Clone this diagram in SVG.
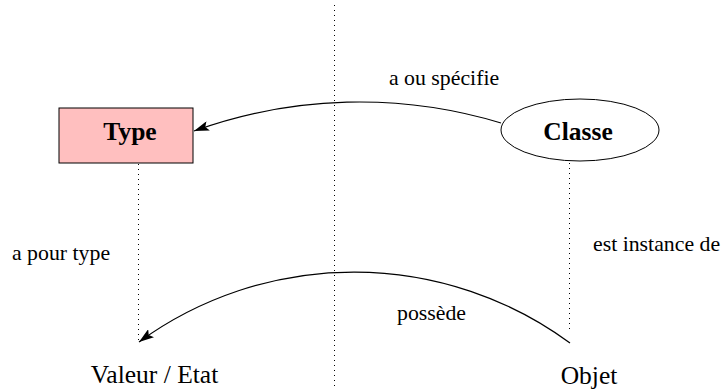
<svg xmlns="http://www.w3.org/2000/svg" width="724" height="389" viewBox="0 0 724 389">
<style>
text{font-family:"Liberation Serif","Times New Roman",serif;fill:#000}
.lbl{font-size:21.8px}
.big{font-size:25.5px}
.bold{font-size:25.5px;font-weight:bold}
.dot{stroke:#000;stroke-width:1;stroke-dasharray:1 4;fill:none}
.arc{stroke:#000;stroke-width:1.2;fill:none;marker-end:url(#ah)}
</style>
<defs>
<marker id="ah" markerUnits="userSpaceOnUse" markerWidth="16" markerHeight="10" refX="15" refY="5" orient="auto">
<path d="M0,0 L15,5 L0,10 L3,5 Z" fill="#000"/>
</marker>
</defs>
<g id="guides">
<line class="dot" x1="334.5" y1="5" x2="334.5" y2="387"/>
<line class="dot" x1="138.5" y1="164" x2="138.5" y2="340"/>
<line class="dot" x1="569.5" y1="163" x2="569.5" y2="333"/>
</g>
<g id="node-type">
<rect x="59" y="108" width="134" height="55" fill="#ffbfbf" stroke="#000" stroke-width="1"/>
<text class="bold" x="130" y="140" text-anchor="middle">Type</text>
</g>
<g id="node-classe">
<ellipse cx="580" cy="130" rx="79" ry="31" fill="#fff" stroke="#000" stroke-width="1"/>
<text class="bold" x="578" y="140" text-anchor="middle">Classe</text>
</g>
<g id="node-valeur">
<text class="big" x="154.5" y="383" text-anchor="middle">Valeur / Etat</text>
</g>
<g id="node-objet">
<text class="big" x="589" y="384" text-anchor="middle">Objet</text>
</g>
<g id="connectors">
<path class="arc" d="M501,123 A487,487 0 0 0 194,131"/>
<path class="arc" d="M570,343 A365,365 0 0 0 139,342"/>
</g>
<g id="labels">
<text class="lbl" x="389" y="85">a ou spécifie</text>
<text class="lbl" x="12" y="260">a pour type</text>
<text class="lbl" x="593" y="251">est instance de</text>
<text class="lbl" x="397" y="320">possède</text>
</g>
</svg>
